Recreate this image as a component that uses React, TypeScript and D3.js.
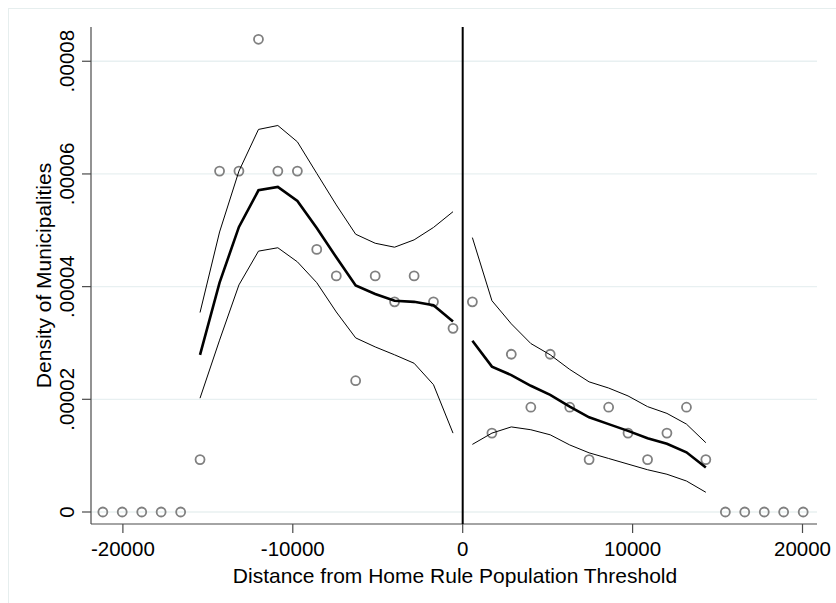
import React from 'react';
import * as d3 from 'd3';

// binned density (circles)
const binX = [
  -21180, -20040, -18890, -17750, -16600, -15460, -14310, -13170, -12020, -10880,
  -9730, -8590, -7440, -6300, -5150, -4010, -2860, -1720, -570,
  570, 1720, 2860, 4010, 5150, 6300, 7440, 8590, 9730, 10880,
  12020, 13170, 14310, 15460, 16600, 17750, 18890, 20040,
];
const binDensity = [
  0, 0, 0, 0, 0, 0.0000093, 0.0000605, 0.0000605, 0.0000839, 0.0000605,
  0.0000605, 0.0000466, 0.0000419, 0.0000233, 0.0000419, 0.0000373, 0.0000419, 0.0000373, 0.0000326,
  0.0000373, 0.000014, 0.000028, 0.0000186, 0.000028, 0.0000186, 0.0000093, 0.0000186, 0.000014, 0.0000093,
  0.000014, 0.0000186, 0.0000093, 0, 0, 0, 0, 0,
];

// fitted density and confidence bands, left of the threshold
const leftX = [-15460, -14310, -13170, -12020, -10880, -9730, -8590, -7440, -6300, -5150, -4010, -2860, -1720, -570];
const leftFit = [0.0000279, 0.0000407, 0.0000506, 0.0000571, 0.0000577, 0.0000552, 0.0000504, 0.0000452, 0.0000402, 0.0000387, 0.0000375, 0.0000373, 0.0000367, 0.0000338];
const leftUpper = [0.0000354, 0.0000497, 0.0000605, 0.0000679, 0.0000686, 0.0000657, 0.0000601, 0.0000545, 0.0000493, 0.0000477, 0.000047, 0.0000483, 0.0000505, 0.0000533];
const leftLower = [0.0000202, 0.0000305, 0.0000403, 0.0000463, 0.0000469, 0.0000444, 0.0000407, 0.0000355, 0.0000309, 0.0000293, 0.0000279, 0.0000264, 0.0000226, 0.000014];

// right of the threshold
const rightX = [570, 1720, 2860, 4010, 5150, 6300, 7440, 8590, 9730, 10880, 12020, 13170, 14310];
const rightFit = [0.0000304, 0.0000258, 0.0000243, 0.0000224, 0.0000208, 0.0000187, 0.0000168, 0.0000156, 0.0000144, 0.0000131, 0.0000121, 0.0000106, 0.0000079];
const rightUpper = [0.0000487, 0.0000375, 0.0000334, 0.0000299, 0.0000279, 0.0000253, 0.0000231, 0.000022, 0.0000206, 0.0000187, 0.0000175, 0.0000156, 0.0000123];
const rightLower = [0.000012, 0.000014, 0.0000151, 0.0000146, 0.0000137, 0.0000119, 0.0000105, 0.0000095, 0.0000085, 0.0000075, 0.0000067, 0.0000055, 0.0000035];

const xTicks = [-20000, -10000, 0, 10000, 20000];
const yTicks = [0, 0.00002, 0.00004, 0.00006, 0.00008];
const yTickLabels = ['0', '.00002', '.00004', '.00006', '.00008'];

const FONT = '"Liberation Sans", Arial, Helvetica, sans-serif';

export default function App() {
  const left = 91, right = 817, top = 27, bottom = 524;

  const x = d3.scaleLinear().domain([-21877, 20853]).range([left, right]);
  const y = d3.scaleLinear().domain([-0.00000213, 0.00008608]).range([bottom, top]);

  const line = d3.line<[number, number]>().x(d => x(d[0])).y(d => y(d[1]));
  const path = (xs: number[], ys: number[]) => line(xs.map((v, i) => [v, ys[i]] as [number, number])) || '';

  return (
    <svg width={836} height={603} style={{ position: 'absolute', left: 0, top: 0, background: '#fff' }}>
      <rect x={8.5} y={8.5} width={840} height={610} fill="#fff" stroke="#e6eeee" strokeWidth={1} />

      {/* gridlines */}
      {yTicks.map(t => (
        <line key={'g' + t} x1={left} x2={right} y1={y(t)} y2={y(t)} stroke="#e8f0f1" strokeWidth={1.3} />
      ))}

      {/* axes */}
      <line x1={left} x2={left} y1={top} y2={bottom} stroke="#4a4a4a" strokeWidth={1.2} />
      <line x1={left} x2={right} y1={bottom} y2={bottom} stroke="#4a4a4a" strokeWidth={1.2} />

      {yTicks.map((t, i) => (
        <g key={'y' + t}>
          <line x1={left - 9} x2={left} y1={y(t)} y2={y(t)} stroke="#4a4a4a" strokeWidth={1.2} />
          <text
            transform={`translate(74,${y(t)}) rotate(-90)`}
            textAnchor="middle"
            fontFamily={FONT}
            fontSize={20.5}
            fill="#000"
          >
            {yTickLabels[i]}
          </text>
        </g>
      ))}

      {xTicks.map(t => (
        <g key={'x' + t}>
          <line x1={x(t)} x2={x(t)} y1={bottom} y2={bottom + 9} stroke="#4a4a4a" strokeWidth={1.2} />
          <text x={x(t)} y={556} textAnchor="middle" fontFamily={FONT} fontSize={20.5} fill="#000">
            {t}
          </text>
        </g>
      ))}

      <text x={455} y={583} textAnchor="middle" fontFamily={FONT} fontSize={21} fill="#000">
        Distance from Home Rule Population Threshold
      </text>
      <text
        transform={`translate(51,${(top + bottom) / 2}) rotate(-90)`}
        textAnchor="middle"
        fontFamily={FONT}
        fontSize={21}
        fill="#000"
      >
        Density of Municipalities
      </text>

      {/* threshold */}
      <line x1={x(0)} x2={x(0)} y1={top} y2={bottom} stroke="#000" strokeWidth={2} />

      {/* bins */}
      {binX.map((v, i) => (
        <circle key={'c' + i} cx={x(v)} cy={y(binDensity[i])} r={4.5} fill="none" stroke="#808080" strokeWidth={1.8} />
      ))}

      {/* fitted lines and bands */}
      <path d={path(leftX, leftUpper)} fill="none" stroke="#000" strokeWidth={1} />
      <path d={path(leftX, leftLower)} fill="none" stroke="#000" strokeWidth={1} />
      <path d={path(leftX, leftFit)} fill="none" stroke="#000" strokeWidth={2.6} />
      <path d={path(rightX, rightUpper)} fill="none" stroke="#000" strokeWidth={1} />
      <path d={path(rightX, rightLower)} fill="none" stroke="#000" strokeWidth={1} />
      <path d={path(rightX, rightFit)} fill="none" stroke="#000" strokeWidth={2.6} />
    </svg>
  );
}
